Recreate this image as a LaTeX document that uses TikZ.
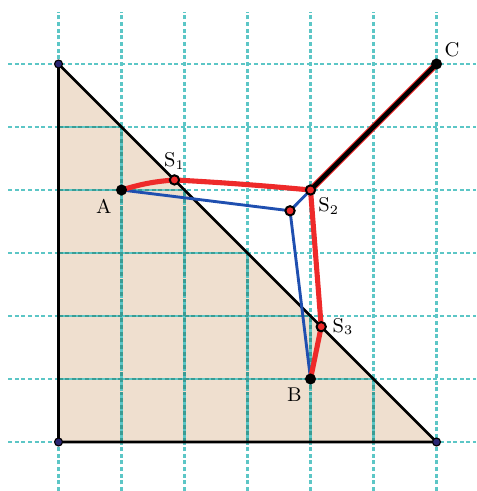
\documentclass[tikz,border=0pt]{standalone}
\usetikzlibrary{positioning}
\definecolor{GridCyan}{HTML}{5CC6C6}
\definecolor{GridTeal}{HTML}{3A9C94}
\definecolor{RegionTan}{HTML}{EFDFCF}
\definecolor{PathRed}{HTML}{EE2A2A}
\definecolor{SteinerBlue}{HTML}{1F4FB0}
\definecolor{CornerNavy}{HTML}{2A2672}
\tikzset{
  gridline/.style={draw=GridCyan,line width=1.2pt,dash pattern=on 1.8pt off 1.2pt},
  edge/.style={draw=black,line width=1.2pt},
  redpath/.style={draw=PathRed,line width=2.3pt,line cap=round,line join=round},
  bluepath/.style={draw=SteinerBlue,line width=1.3pt,line join=round},
  corner/.style={circle,draw=black,fill=CornerNavy,inner sep=0pt,minimum size=3.6pt,line width=.5pt},
  site/.style={circle,fill=black,inner sep=0pt,minimum size=5pt},
  touch/.style={circle,draw=black,fill=PathRed,inner sep=0pt,minimum size=4.2pt,line width=.9pt},
  lbl/.style={font=\fontsize{9}{10}\selectfont,inner sep=1pt}
}

\begin{document}
\begin{tikzpicture}[x=1cm,y=1cm]
  \useasboundingbox (-0.929,-0.778) rectangle (6.627,7.016);
  % points
  \coordinate (O) at (0,0);
  \coordinate (T) at (0,6);
  \coordinate (R) at (6,0);
  \coordinate (A) at (1,4);
  \coordinate (B) at (4,1);
  \coordinate (C) at (6,6);
  \coordinate (S1) at (1.84,4.16);
  \coordinate (S2) at (4,4);
  \coordinate (S3) at (4.17,1.83);
  \coordinate (P) at (3.675,3.67);
  % region
  \fill[RegionTan] (O) -- (T) -- (R) -- cycle;
  % grid
  \foreach \k in {0,...,6} {
    \draw[gridline] (-0.8,\k) -- (6.627,\k);
    \draw[gridline] (\k,-0.778) -- (\k,6.83);
  }
  \foreach \k in {1,...,5} {
    \draw[gridline,draw=GridTeal] (0,\k) -- (6-\k,\k);
    \draw[gridline,draw=GridTeal] (\k,0) -- (\k,6-\k);
  }
  \draw[edge] (O) -- (T) -- (R) -- cycle;
  % paths
  \draw[bluepath] (A) -- (P) -- (B);
  \draw[bluepath] (P) -- (S2);
  \draw[redpath] (A) to[bend left=6] (S1) to[bend left=1] (S2) -- (S3) -- (B);
  \draw[draw=PathRed,line width=3pt] (S2) -- (C);
  \draw[draw=black,line width=2pt,line cap=round] (S2) -- (C);
  % dots
  \node[corner] at (O) {};
  \node[corner] at (T) {};
  \node[corner] at (R) {};
  \node[site] (a) at (A) {};
  \node[site] (b) at (B) {};
  \node[site] (c) at (C) {};
  \node[touch] (s1) at (S1) {};
  \node[touch] (s2) at (S2) {};
  \node[touch] (s3) at (S3) {};
  \node[touch] (p) at (P) {};
  % labels
  \node[lbl,below left=0.3mm and 0.5mm of a] {A};
  \node[lbl,below left=0.3mm and 0.3mm of b] {B};
  \node[lbl,above right=0mm and 0.2mm of c] {C};
  \node[lbl,above=0.4mm of s1] {S$_1$};
  \node[lbl,below right=0.2mm and 0.2mm of s2] {S$_2$};
  \node[lbl,right=0.5mm of s3] {S$_3$};
\end{tikzpicture}
\end{document}
